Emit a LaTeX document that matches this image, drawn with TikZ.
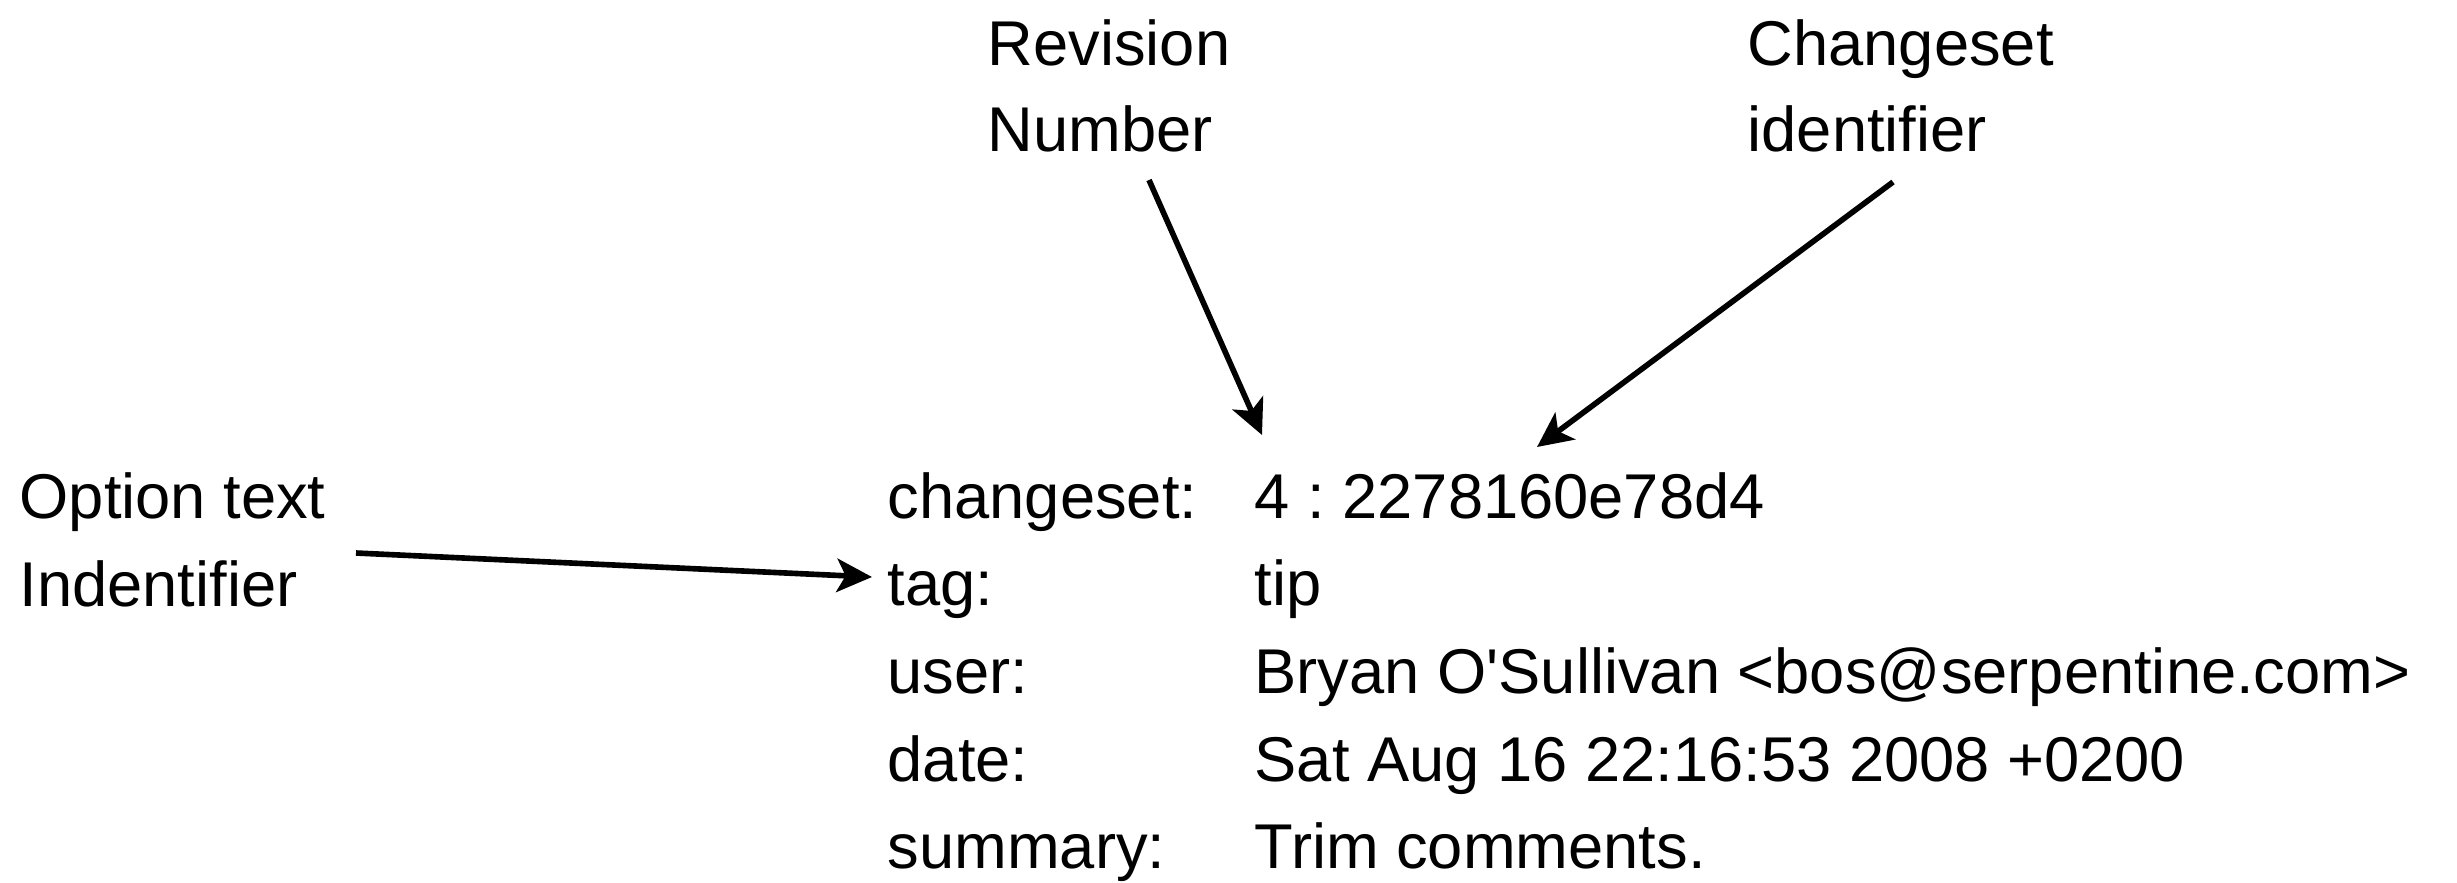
\documentclass[tikz,border=0pt]{standalone}
\usepackage{fontspec}
\setmainfont{Liberation Sans}
\usetikzlibrary{arrows.meta, math}

\tikzset{
  txt/.style={anchor=base west, inner sep=0pt, font=\fontsize{18}{25}\selectfont},
  pointer/.style={line width=1.6pt, -{Stealth[length=10pt, width=9.5pt, inset=2.5pt]}},
}

\begin{document}
\frenchspacing
\begin{tikzpicture}
\tikzmath{
\dy=0.877;
\ytop=3.64;
\xkey=8.87;
\xval=12.54;
}
\useasboundingbox (0,0) rectangle (24.57,8.82);

% the log entry
\foreach \k/\v [count=\i from 0] in {changeset:/4 : 2278160e78d4, tag:/tip,
  user:/Bryan O\textquotesingle Sullivan <bos@serpentine.com>,
  date:/Sat Aug 16 22:16:53 2008 +0200, summary:/Trim comments.}{
  \node[txt] (key\i) at (\xkey,\ytop-\i*\dy) {\k};
  \node[txt] (val\i) at (\xval,\ytop-\i*\dy) {\v};
}

% labels
\node[txt] (rev1) at (9.87,8.17) {Revision};
\node[txt] (rev2) at (9.87,7.31) {Number};
\node[txt] (cid1) at (17.47,8.17) {Changeset};
\node[txt] (cid2) at (17.47,7.31) {identifier};
\node[txt] (opt1) at (0.19,3.64) {Option text};
\node[txt] (opt2) at (0.19,2.76) {Indentifier};

\coordinate (revtail) at (11.49,7.02);
\coordinate (revtip) at (12.62,4.47);
\coordinate (cidtail) at (18.93,7.00);
\coordinate (cidtip) at (15.37,4.35);
\coordinate (opttail) at (3.56,3.29);
\coordinate (opttip) at (8.72,3.05);

\draw[pointer] (revtail) -- (revtip);
\draw[pointer] (cidtail) -- (cidtip);
\draw[pointer] (opttail) -- (opttip);

\end{tikzpicture}
\end{document}
